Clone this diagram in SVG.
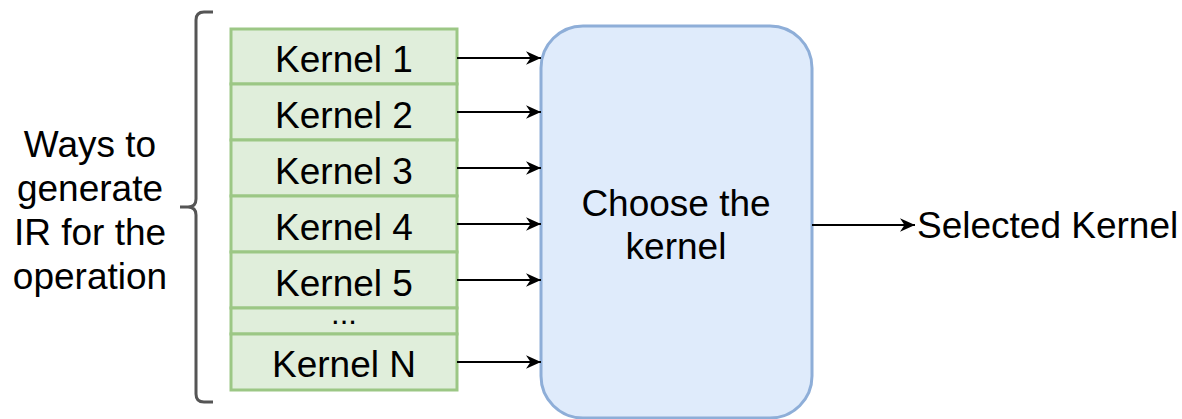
<svg xmlns="http://www.w3.org/2000/svg" width="1182" height="419" viewBox="0 0 1182 419">
  <style>
    .k { fill: #e0eedb; stroke: #9cc785; stroke-width: 3; }
    .t { font-family: "Liberation Sans", Arial, sans-serif; font-size: 37px; fill: #000; text-anchor: middle; }
    .e { stroke: #000; stroke-width: 2; fill: none; marker-end: url(#arr); }
  </style>
  <defs>
    <marker id="arr" viewBox="0 0 10 10" refX="10" refY="5" markerWidth="15" markerHeight="15" markerUnits="userSpaceOnUse" orient="auto">
      <path d="M0,0.5 L10,5 L0,9.5 L3,5 Z" fill="#000"/>
    </marker>
  </defs>
  <rect width="1182" height="419" fill="#fff"/>

  <!-- brace grouping the kernel variants -->
  <g id="brace">
    <path d="M213,12 L204,12 Q196,12 196,20 L196,199 Q196,207 188,207 L180,207 L188,207 Q196,207 196,215 L196,394 Q196,402 204,402 L213,402" fill="none" stroke="#555" stroke-width="3"/>
  </g>
  <g id="label-ways">
    <text class="t" x="90" y="157">Ways to</text>
    <text class="t" x="90" y="201">generate</text>
    <text class="t" x="90" y="245">IR for the</text>
    <text class="t" x="90" y="289">operation</text>
  </g>

  <g id="kernel-1"><rect class="k" x="231" y="29" width="226" height="55"/><text class="t" x="344" y="72">Kernel 1</text></g>
  <g id="kernel-2"><rect class="k" x="231" y="84" width="226" height="56"/><text class="t" x="344" y="128">Kernel 2</text></g>
  <g id="kernel-3"><rect class="k" x="231" y="140" width="226" height="56"/><text class="t" x="344" y="184">Kernel 3</text></g>
  <g id="kernel-4"><rect class="k" x="231" y="196" width="226" height="56"/><text class="t" x="344" y="240">Kernel 4</text></g>
  <g id="kernel-5"><rect class="k" x="231" y="252" width="226" height="56"/><text class="t" x="344" y="296">Kernel 5</text></g>
  <g id="kernel-more"><rect class="k" x="231" y="308" width="226" height="26"/><text class="t" x="344" y="324" style="font-size:31px">...</text></g>
  <g id="kernel-n"><rect class="k" x="231" y="334" width="226" height="56"/><text class="t" x="344" y="377">Kernel N</text></g>

  <g id="chooser">
    <rect x="541" y="26" width="271" height="392" rx="42" ry="42" fill="#dfebfb" stroke="#8eaed8" stroke-width="3"/>
    <text class="t" x="676" y="216">Choose the</text>
    <text class="t" x="676" y="259">kernel</text>
  </g>

  <g id="result">
    <text class="t" x="917" y="238" style="text-anchor:start">Selected Kernel</text>
  </g>

  <g id="connectors">
    <path class="e" d="M457,58 L541,58"/>
    <path class="e" d="M457,112 L541,112"/>
    <path class="e" d="M457,168 L541,168"/>
    <path class="e" d="M457,224 L541,224"/>
    <path class="e" d="M457,280 L541,280"/>
    <path class="e" d="M457,362 L541,362"/>
    <path class="e" d="M812,225 L915,225"/>
  </g>
</svg>
